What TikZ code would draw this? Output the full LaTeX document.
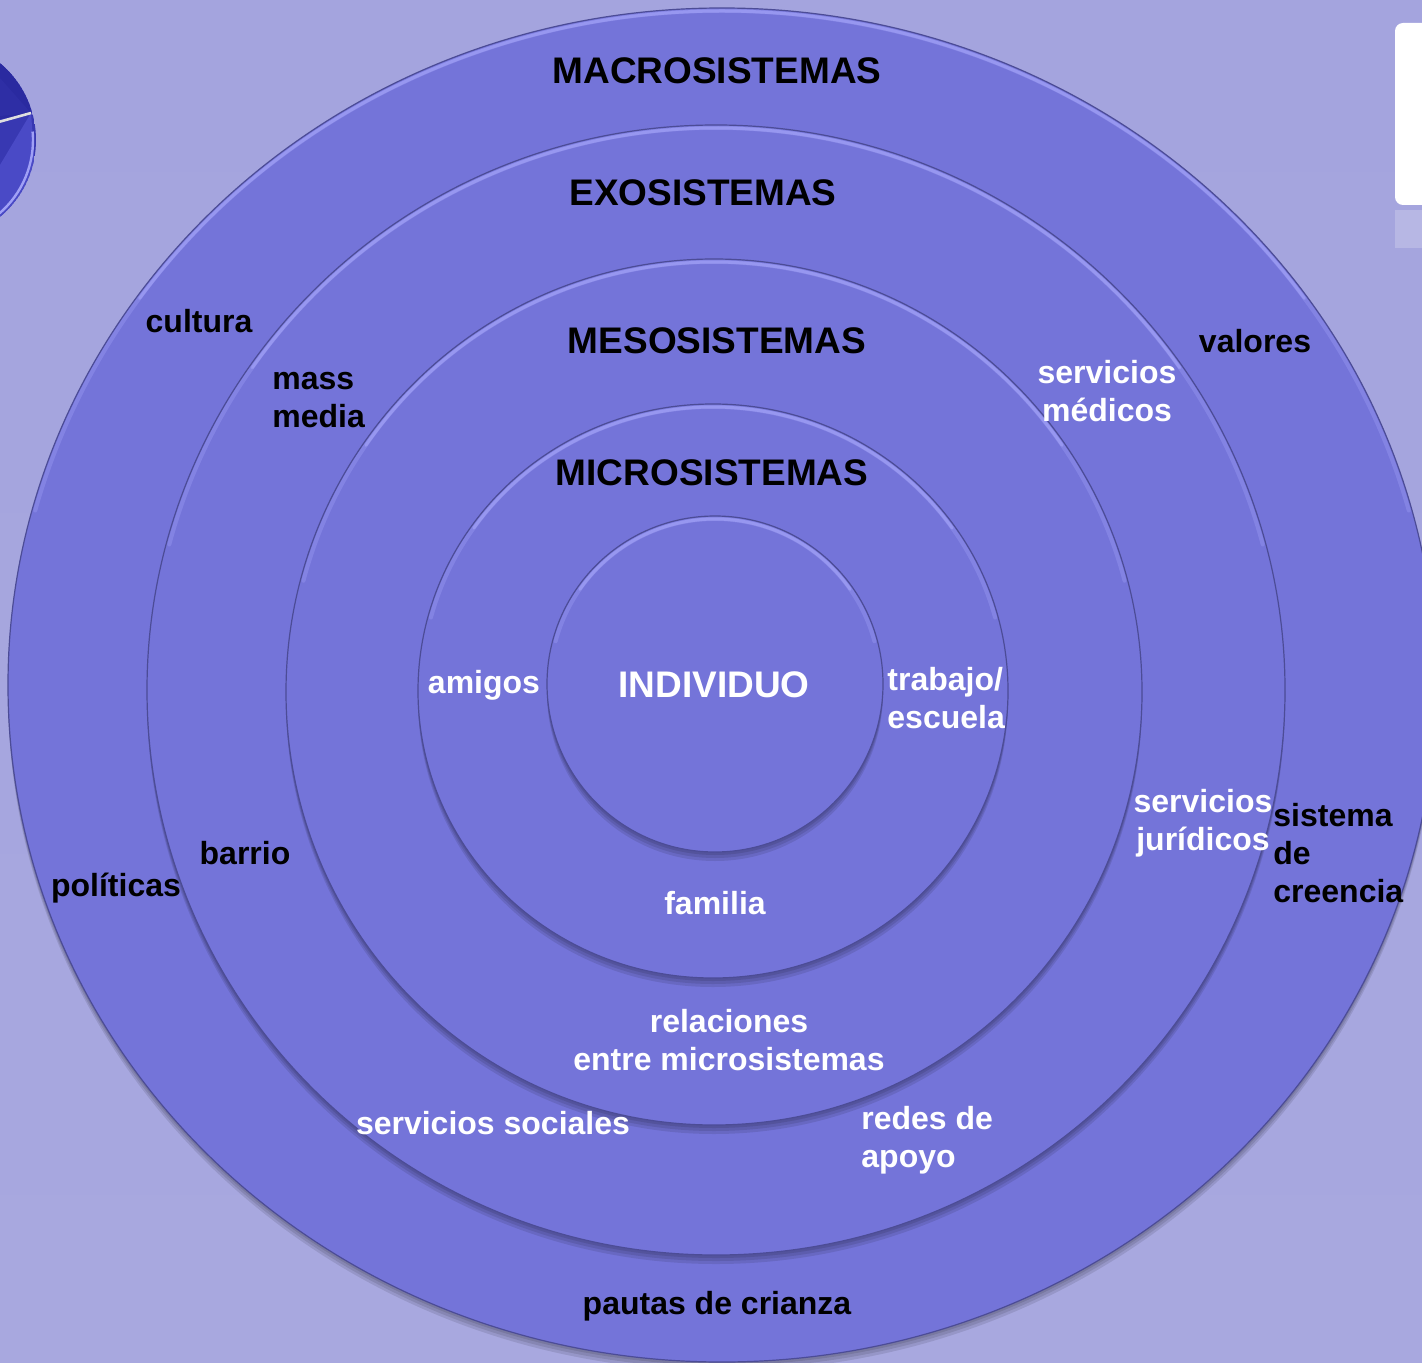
\documentclass[tikz,border=0pt]{standalone}
\usepackage{fontspec}
\setmainfont{Liberation Sans}
\usepackage{tikz}

\definecolor{bgtop}{HTML}{A4A4DE}
\definecolor{bgmid}{HTML}{EEEEF5}
\definecolor{bgbot}{HTML}{A8A8DF}
\definecolor{ringfill}{HTML}{7474D9}
\definecolor{ringrim}{HTML}{A0A0F6}
\definecolor{ringedge}{HTML}{4C4C96}
\definecolor{orb}{HTML}{3838B2}
\definecolor{orbdark}{HTML}{2A2AA0}
\definecolor{orblight}{HTML}{4A4AC6}

\begin{document}
\begin{tikzpicture}[x=0.5pt,y=-0.5pt,
  ttl/.style={font=\fontsize{18.5}{22}\selectfont\bfseries,inner sep=0pt,anchor=base},
  lbl/.style={font=\fontsize{16}{19}\selectfont\bfseries,inner sep=0pt,anchor=base},
  blk/.style={lbl,text=black},
  wht/.style={lbl,text=white}]

\useasboundingbox (0,0) rectangle (1422,1363);
\clip (0,0) rectangle (1422,1363);

\shade [top color=bgtop,middle color=bgmid,bottom color=bgbot] (0,0) rectangle (1422,1363);

\begin{scope}
  \clip (-64,140) circle [radius=100];
  \fill [orb] (-64,140) circle [radius=100];
  \fill [orbdark] (-200,160) -- (31,113) -- (31,0) -- (-200,0) -- cycle;
  \fill [orbdark!70!orb] (31,113) -- (0,78) -- (-20,118) -- cycle;
  \fill [orblight] (31,113) -- (0,165) -- (0,230) -- (40,230) -- cycle;
  \draw [ringrim,line width=1.2pt] (-64,140) ++(-5:97) arc [start angle=-5,end angle=50,radius=97];
\end{scope}
\draw [white!75!gray,line width=1.3pt] (-5,123) -- (31,113);

\fill [white,rounded corners=4pt] (1395,23) rectangle (1450,205);
\fill [white,opacity=0.2] (1395,210) rectangle (1450,248);

\foreach \cx/\cy/\rx/\ry in {722/685/714/677, 716/690/569/565, 714/692/428/433, 713/691/295/287, 715/684/168/168} {
  \pgfmathsetmacro\hx{\rx-3}
  \pgfmathsetmacro\hy{\ry-3}
  \fill [black,opacity=0.10] (\cx,\cy+3) ellipse [x radius=\rx,y radius=\ry];
  \fill [black,opacity=0.10] (\cx,\cy+6) ellipse [x radius=\rx,y radius=\ry];
  \fill [black,opacity=0.10] (\cx,\cy+9) ellipse [x radius=\rx,y radius=\ry];
  \fill [ringfill] (\cx,\cy) ellipse [x radius=\rx,y radius=\ry];
  \draw [ringedge,line width=0.6pt] (\cx,\cy) ellipse [x radius=\rx,y radius=\ry];
  \draw [ringrim,opacity=0.35,line width=2pt,line cap=round] (\cx,\cy) ++(195:{\hx} and {\hy}) arc [start angle=195,end angle=345,x radius=\hx,y radius=\hy];
  \draw [ringrim,opacity=0.7,line width=1.5pt,line cap=round] (\cx,\cy) ++(215:{\hx} and {\hy}) arc [start angle=215,end angle=325,x radius=\hx,y radius=\hy];
}

\node [ttl] (macro) at (717,84) {MACROSISTEMAS};
\node [ttl] (exo) at (703,206) {EXOSISTEMAS};
\node [ttl] (meso) at (717,354) {MESOSISTEMAS};
\node [ttl] (micro) at (712,485) {MICROSISTEMAS};
\node [ttl,text=white] (indiv) at (714,697) {INDIVIDUO};

\node [blk] (cultura) at (199,333) {cultura};
\node [blk] (valores) at (1255,353) {valores};
\node [blk,anchor=base west,align=left] (massmedia) at (272,428) {mass\\media};
\node [blk] (barrio) at (245,864) {barrio};
\node [blk] (politicas) at (116,896) {políticas};
\node [blk,anchor=base west,align=left] (creencia) at (1273,902) {sistema\\de\\creencia};
\node [blk] (pautas) at (717,1314) {pautas de crianza};

\node [wht,align=center] (medicos) at (1107,422) {servicios\\médicos};
\node [wht,align=center] (juridicos) at (1203,850) {servicios\\jurídicos};
\node [wht] (amigos) at (484,693) {amigos};
\node [wht,anchor=base west,align=left] (trabajo) at (887,728) {trabajo/\\escuela};
\node [wht] (familia) at (715,914) {familia};
\node [wht,align=center] (relaciones) at (729,1070) {relaciones\\entre microsistemas};
\node [wht] (sociales) at (493,1134) {servicios sociales};
\node [wht,anchor=base west,align=left] (redes) at (861,1167) {redes de\\apoyo};

\end{tikzpicture}
\end{document}
